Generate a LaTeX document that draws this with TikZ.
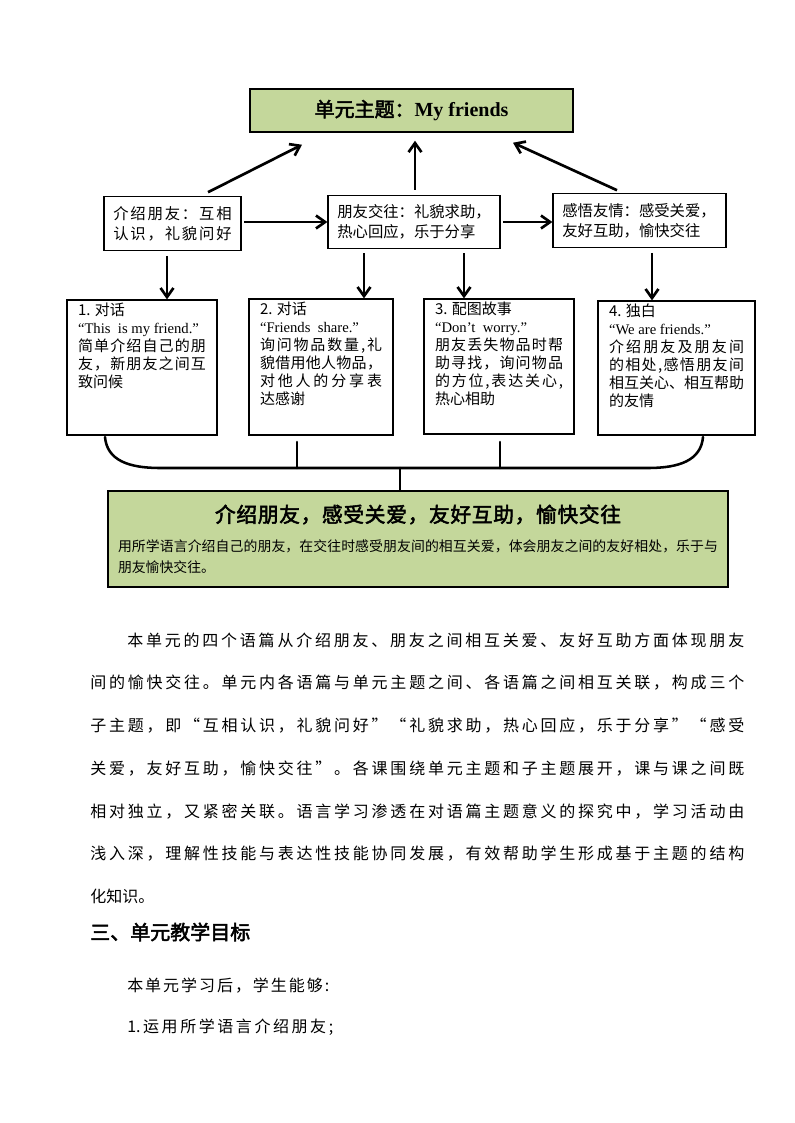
\documentclass[tikz,border=0pt]{standalone}
\usepackage{fontspec}
\setmainfont{Noto Sans CJK SC}
\newfontfamily\heavyfont[FakeBold=2.5]{Noto Sans CJK SC}
\newfontfamily\enfont{Liberation Serif}
\usetikzlibrary{arrows.meta, calc}
\definecolor{themegreen}{RGB}{196,215,155}

% spread a line of CJK characters evenly over a width
\def\sprend{\relax}
\def\sprloop#1{\def\sprtmp{#1}\ifx\sprtmp\sprend\else#1\hskip0pt plus1fil\relax\expandafter\sprloop\fi}
\newcommand\spreadline[2]{\leavevmode\hbox to #1{\sprloop#2\relax\unskip}}

\begin{document}
\begin{tikzpicture}[
    x=0.75pt, y=-0.75pt,
    theme/.style={
        draw=black,
        line width=1.1pt,
        fill=themegreen,
        minimum width=242.25pt,
        minimum height=32.25pt,
        font=\heavyfont\fontsize{15}{18}\selectfont
    },
    subtopic/.style={
        draw=black,
        line width=0.9pt,
        align=left,
        inner xsep=7pt,
        inner ysep=0pt,
        minimum height=40pt,
        font=\fontsize{11.5}{15}\selectfont
    },
    lesson/.style={
        draw=black,
        line width=0.9pt,
        inner xsep=8.25pt,
        inner ysep=2.25pt,
        font=\fontsize{11.25}{13.5}\selectfont
    },
    summary/.style={
        draw=black,
        line width=0.9pt,
        fill=themegreen,
        minimum width=465pt,
        minimum height=72pt,
        text width=450pt,
        align=left,
        inner xsep=7.5pt,
        font=\fontsize{10.4}{15.75}\selectfont
    },
    arrow/.style={
        -{Straight Barb[length=2.4mm,width=3.4mm]},
        line width=2pt,
        black
    },
    brace/.style={
        line width=1.9pt,
        line cap=round,
        black
    },
    body/.style={
        anchor=west,
        inner sep=0pt,
        font=\fontsize{12}{14}\selectfont
    }
]

\fill[white] (0,0) rectangle (794,1123);

% unit theme
\node[theme] (theme) at (411.5,110.5) {单元主题：{\enfont\bfseries My friends}};

% sub-themes
\node[subtopic, text width=88.75pt] (meet) at (172.5,223.5)
    {\spreadline{88.75pt}{介绍朋友：互相}\\\spreadline{88.75pt}{认识，礼貌问好}};
\node[subtopic, text width=115pt] (share) at (414,222)
    {朋友交往：礼貌求助，\\热心回应，乐于分享};
\node[subtopic, text width=115.75pt] (care) at (639.5,220.5)
    {感悟友情：感受关爱，\\友好互助，愉快交往};

% lessons
\node[lesson] (dlg1) at (142,367.5) {\parbox[c][96.75pt][t]{96pt}{%
    1. 对话\\
    {\enfont\fontsize{11}{13.5}\selectfont “This\ \ is my friend.”}\\
    \spreadline{96pt}{简单介绍自己的朋}\\
    \spreadline{96pt}{友，新朋友之间互}\\
    致问候}};
\node[lesson] (dlg2) at (321,367) {\parbox[c][97.5pt][t]{91.5pt}{%
    2. 对话\\
    {\enfont\fontsize{11}{13.5}\selectfont “Friends\ \ share.”}\\
    \spreadline{91.5pt}{询问物品数量,礼}\\
    \spreadline{91.5pt}{貌借用他人物品，}\\
    \spreadline{91.5pt}{对他人的分享表}\\
    达感谢}};
\node[lesson] (story) at (499,366.5) {\parbox[c][96.75pt][t]{96pt}{%
    3. 配图故事\\
    {\enfont\fontsize{11}{13.5}\selectfont “Don’t\ \ worry.”}\\
    \spreadline{96pt}{朋友丢失物品时帮}\\
    \spreadline{96pt}{助寻找，询问物品}\\
    \spreadline{96pt}{的方位,表达关心,}\\
    热心相助}};
\node[lesson] (mono) at (676.5,368) {\parbox[c][96pt][t]{101.25pt}{%
    4. 独白\\
    {\enfont\fontsize{11}{13.5}\selectfont “We are friends.”}\\
    \spreadline{101.25pt}{介绍朋友及朋友间}\\
    \spreadline{101.25pt}{的相处,感悟朋友间}\\
    \spreadline{101.25pt}{相互关心、相互帮助}\\
    的友情}};

% summary
\node[summary] (sum) at (418,539) {%
    \makebox[450pt]{\heavyfont\fontsize{15.5}{15.75}\selectfont
        \spreadline{304.5pt}{介绍朋友，感受关爱，友好互助，愉快交往}}\\[6pt]
    \spreadline{450pt}{用所学语言介绍自己的朋友，在交往时感受朋友间的相互关爱，体会朋友之间的友好相处，乐于与}\\
    朋友愉快交往。};

% arrows
\draw[arrow] ($(meet.north)+(35.5,-4)$) -- ($(theme.south)+(-109.5,12)$);
\draw[arrow] ($(share.north)+(1,-5)$) -- ($(theme.south)+(3.5,8)$);
\draw[arrow] ($(care.north)+(-22.5,-3)$) -- ($(theme.south)+(101.5,10)$);

\draw[arrow, shorten <=2pt] (meet.east |- share.west) -- (share.west);
\draw[arrow, shorten <=2pt] (share.east) -- (share.east -| care.west);

\draw[arrow] ($(meet.south)+(-5.5,5)$) -- ($(dlg1.north)+(25,0)$);
\draw[arrow] ($(share.south)+(-50,4)$) -- ($(dlg2.north)+(43,0)$);
\draw[arrow] ($(share.south)+(50,4)$) -- ($(story.north)+(-35,0)$);
\draw[arrow] ($(care.south)+(12.5,5)$) -- ($(mono.north)+(-24.5,0)$);

% brace joining the lessons
\coordinate (join) at (400,468);
\draw[brace] (105,437) .. controls (107,460) and (128,468) .. (160,468)
    -- (648,468) .. controls (680,468) and (701,460) .. (703,437);
\draw[brace] (297,442) -- (297,468);
\draw[brace] (500,442) -- (500,468);
\draw[brace] (join) -- (join |- sum.north);

% text below the diagram
\node[body] (para1) at (127,640) {\spreadline{462.75pt}{本单元的四个语篇从介绍朋友、朋友之间相互关爱、友好互助方面体现朋友}};
\node[body] (para2) at (90,683) {\spreadline{490.5pt}{间的愉快交往。单元内各语篇与单元主题之间、各语篇之间相互关联，构成三个}};
\node[body] (para3) at (90,726) {\spreadline{490.5pt}{子主题，即“互相认识，礼貌问好”“礼貌求助，热心回应，乐于分享”“感受}};
\node[body] (para4) at (90,769) {\spreadline{490.5pt}{关爱，友好互助，愉快交往”。各课围绕单元主题和子主题展开，课与课之间既}};
\node[body] (para5) at (90,812) {\spreadline{490.5pt}{相对独立，又紧密关联。语言学习渗透在对语篇主题意义的探究中，学习活动由}};
\node[body] (para6) at (90,854) {\spreadline{490.5pt}{浅入深，理解性技能与表达性技能协同发展，有效帮助学生形成基于主题的结构}};
\node[body] (para7) at (90,896) {化知识。};

\node[body, font=\heavyfont\fontsize{15}{18}\selectfont] (goals) at (90,932) {三、单元教学目标};
\node[body] (goal0) at (127,986) {\spreadline{151.5pt}{本单元学习后，学生能够:}};
\node[body] (goal1) at (127,1027) {\spreadline{154.5pt}{{1.}运用所学语言介绍朋友;}};

\end{tikzpicture}
\end{document}
